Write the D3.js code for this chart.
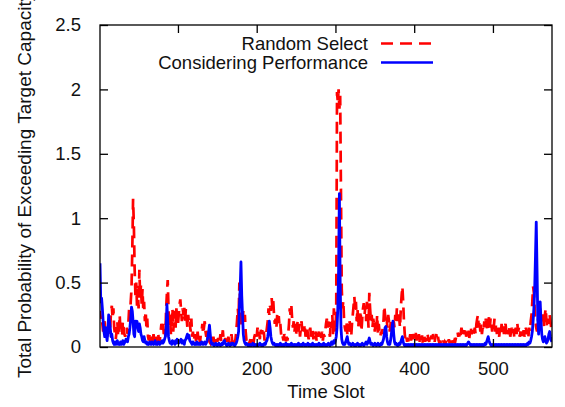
<!DOCTYPE html>
<html>
<head>
<meta charset="utf-8">
<script src="https://cdn.jsdelivr.net/npm/d3@7/dist/d3.min.js"></script>
<style>
  body { margin: 0; background: #fff; }
  svg text { font-family: "Liberation Sans", Arial, sans-serif; fill: #111; }
</style>
</head>
<body>
<div id="chart"></div>
<script>
// values, one per time slot (1..575)
var randomSelect = [
  0.28,0.22,0.25,0.18,0.12,0.15,0.2,0.1,0.14,0.08,0.12,0.18,0.1,0.15,0.28,0.32,0.22,0.3,0.15,0.1,0.06,0.12,0.2,0.08,0.15,
  0.25,0.12,0.18,0.08,0.2,0.15,0.1,0.08,0.12,0.15,0.1,0.18,0.3,0.22,0.35,0.45,0.75,1.15,0.95,0.6,0.4,0.5,0.32,0.45,0.3,
  0.6,0.38,0.48,0.32,0.45,0.28,0.35,0.2,0.28,0.15,0.22,0.08,0.05,0.1,0.04,0.08,0.03,0.06,0.1,0.04,0.07,0.03,0.08,0.05,0.1,
  0.04,0.06,0.12,0.18,0.15,0.2,0.1,0.15,0.08,0.3,0.42,0.52,0.3,0.15,0.25,0.1,0.2,0.3,0.12,0.22,0.28,0.15,0.3,0.22,0.18,
  0.25,0.33,0.37,0.28,0.2,0.3,0.25,0.32,0.18,0.3,0.22,0.15,0.25,0.18,0.2,0.12,0.22,0.08,0.12,0.05,0.08,0.1,0.04,0.06,0.12,
  0.05,0.08,0.03,0.1,0.12,0.18,0.1,0.15,0.2,0.12,0.08,0.15,0.05,0.1,0.04,0.03,0.06,0.02,0.05,0.08,0.03,0.05,0.02,0.06,0.04,
  0.07,0.03,0.05,0.1,0.04,0.08,0.13,0.05,0.03,0.07,0.04,0.06,0.02,0.08,0.05,0.03,0.06,0.1,0.04,0.05,0.08,0.03,0.06,0.12,0.2,
  0.3,0.22,0.5,0.35,0.15,0.25,0.18,0.28,0.22,0.25,0.12,0.05,0.03,0.05,0.02,0.04,0.03,0.06,0.02,0.05,0.03,0.08,0.1,0.12,0.08,
  0.15,0.1,0.12,0.06,0.14,0.1,0.13,0.08,0.12,0.05,0.08,0.1,0.15,0.2,0.3,0.25,0.32,0.28,0.38,0.3,0.36,0.25,0.18,0.22,0.15,
  0.25,0.2,0.24,0.15,0.18,0.1,0.06,0.08,0.05,0.1,0.07,0.04,0.08,0.05,0.1,0.18,0.3,0.25,0.32,0.22,0.15,0.2,0.12,0.18,0.1,
  0.15,0.2,0.12,0.18,0.08,0.14,0.2,0.1,0.15,0.12,0.18,0.08,0.12,0.15,0.1,0.06,0.12,0.15,0.08,0.1,0.13,0.06,0.1,0.08,0.12,
  0.05,0.1,0.08,0.12,0.06,0.1,0.07,0.12,0.05,0.1,0.08,0.12,0.18,0.22,0.15,0.2,0.12,0.08,0.2,0.15,0.25,0.1,0.3,0.2,0.12,
  0.3,1.98,1.9,2.0,1.85,1.95,1.2,0.45,0.3,0.36,0.2,0.15,0.12,0.2,0.1,0.18,0.12,0.2,0.15,0.08,0.18,0.25,0.32,0.39,0.28,
  0.35,0.2,0.3,0.15,0.25,0.18,0.28,0.12,0.22,0.3,0.34,0.25,0.32,0.2,0.35,0.28,0.15,0.42,0.3,0.2,0.25,0.15,0.22,0.18,0.12,
  0.2,0.15,0.25,0.1,0.18,0.12,0.08,0.12,0.1,0.15,0.2,0.32,0.25,0.18,0.22,0.15,0.25,0.2,0.12,0.18,0.22,0.15,0.1,0.2,0.15,
  0.25,0.18,0.3,0.2,0.28,0.22,0.15,0.3,0.4,0.47,0.35,0.2,0.1,0.05,0.08,0.04,0.07,0.03,0.06,0.1,0.05,0.08,0.11,0.06,0.1,
  0.07,0.11,0.05,0.09,0.06,0.1,0.04,0.07,0.05,0.09,0.03,0.06,0.08,0.04,0.07,0.05,0.1,0.06,0.04,0.08,0.05,0.09,0.06,0.1,0.07,
  0.04,0.08,0.1,0.06,0.09,0.05,0.03,0.05,0.02,0.04,0.03,0.05,0.02,0.04,0.03,0.05,0.02,0.04,0.06,0.03,0.05,0.02,0.04,0.06,0.03,
  0.05,0.04,0.07,0.1,0.12,0.08,0.11,0.06,0.1,0.15,0.12,0.08,0.13,0.1,0.15,0.08,0.12,0.1,0.14,0.07,0.12,0.15,0.1,0.13,0.08,
  0.12,0.15,0.1,0.18,0.22,0.25,0.15,0.2,0.12,0.18,0.1,0.15,0.12,0.2,0.15,0.22,0.18,0.12,0.2,0.23,0.15,0.22,0.18,0.12,0.2,
  0.15,0.22,0.12,0.18,0.1,0.15,0.12,0.08,0.15,0.1,0.18,0.12,0.16,0.1,0.14,0.18,0.12,0.08,0.13,0.1,0.15,0.08,0.12,0.15,0.1,
  0.14,0.08,0.12,0.15,0.1,0.18,0.12,0.15,0.08,0.12,0.1,0.06,0.1,0.13,0.08,0.12,0.15,0.1,0.13,0.08,0.15,0.12,0.2,0.25,0.35,
  0.47,0.42,0.3,0.2,0.15,0.12,0.2,0.25,0.18,0.3,0.25,0.2,0.28,0.22,0.15,0.25,0.3,0.2,0.15,0.22,0.18,0.25,0.2,0.15,0.18
];
var consideringPerf = [
  0.65,0.35,0.38,0.3,0.2,0.12,0.08,0.15,0.1,0.05,0.12,0.25,0.2,0.15,0.08,0.1,0.05,0.03,0.02,0.04,0.02,0.03,0.05,0.02,0.03,
  0.02,0.04,0.02,0.03,0.05,0.02,0.03,0.04,0.06,0.05,0.04,0.08,0.1,0.15,0.22,0.31,0.28,0.2,0.1,0.08,0.2,0.18,0.2,0.15,0.12,
  0.18,0.15,0.1,0.08,0.05,0.04,0.08,0.05,0.03,0.04,0.02,0.03,0.02,0.04,0.03,0.02,0.04,0.03,0.02,0.03,0.05,0.02,0.03,0.02,0.04,
  0.03,0.02,0.04,0.03,0.05,0.03,0.04,0.06,0.08,0.15,0.33,0.2,0.08,0.05,0.03,0.04,0.02,0.05,0.03,0.04,0.02,0.05,0.03,0.06,0.04,
  0.03,0.05,0.04,0.06,0.03,0.05,0.04,0.02,0.05,0.06,0.08,0.1,0.07,0.09,0.05,0.04,0.03,0.02,0.04,0.03,0.02,0.03,0.02,0.04,0.02,
  0.03,0.02,0.03,0.02,0.04,0.03,0.02,0.03,0.04,0.02,0.03,0.05,0.08,0.12,0.17,0.1,0.04,0.02,0.03,0.02,0.01,0.02,0.03,0.02,0.01,
  0.02,0.03,0.02,0.01,0.02,0.03,0.02,0.04,0.05,0.03,0.02,0.01,0.02,0.03,0.02,0.01,0.02,0.03,0.02,0.03,0.02,0.01,0.02,0.03,0.05,
  0.08,0.12,0.3,0.45,0.66,0.4,0.25,0.1,0.05,0.03,0.02,0.03,0.02,0.01,0.02,0.01,0.02,0.01,0.02,0.03,0.01,0.02,0.01,0.02,0.01,
  0.02,0.01,0.02,0.03,0.02,0.01,0.02,0.01,0.02,0.03,0.02,0.04,0.05,0.08,0.12,0.2,0.15,0.08,0.05,0.03,0.02,0.03,0.02,0.01,0.02,
  0.01,0.02,0.01,0.02,0.03,0.01,0.02,0.01,0.02,0.01,0.02,0.03,0.01,0.02,0.01,0.02,0.01,0.02,0.03,0.01,0.02,0.01,0.02,0.01,0.02,
  0.01,0.02,0.03,0.01,0.02,0.01,0.02,0.01,0.03,0.02,0.01,0.02,0.01,0.02,0.03,0.01,0.02,0.01,0.02,0.01,0.03,0.02,0.01,0.02,0.01,
  0.02,0.01,0.02,0.03,0.01,0.02,0.01,0.02,0.01,0.03,0.02,0.01,0.02,0.01,0.02,0.03,0.02,0.01,0.02,0.04,0.02,0.03,0.05,0.03,0.05,
  0.08,0.15,0.3,0.6,1.19,0.5,0.15,0.06,0.03,0.02,0.03,0.02,0.04,0.06,0.08,0.04,0.02,0.03,0.02,0.01,0.02,0.03,0.02,0.01,0.02,
  0.01,0.02,0.03,0.02,0.01,0.02,0.01,0.02,0.03,0.02,0.01,0.02,0.03,0.04,0.02,0.03,0.05,0.07,0.04,0.02,0.03,0.02,0.01,0.02,0.03,
  0.02,0.01,0.02,0.03,0.02,0.01,0.02,0.03,0.02,0.04,0.06,0.1,0.15,0.16,0.08,0.04,0.02,0.03,0.02,0.05,0.1,0.16,0.2,0.1,0.04,
  0.02,0.03,0.02,0.01,0.02,0.03,0.02,0.04,0.06,0.08,0.04,0.02,0.01,0.02,0.01,0.02,0.01,0.02,0.01,0.02,0.01,0.02,0.01,0.02,0.01,
  0.02,0.01,0.02,0.01,0.02,0.01,0.02,0.01,0.02,0.01,0.02,0.01,0.02,0.01,0.02,0.01,0.02,0.01,0.02,0.01,0.02,0.01,0.02,0.01,0.02,
  0.01,0.02,0.01,0.02,0.01,0.02,0.01,0.02,0.01,0.02,0.01,0.02,0.01,0.02,0.01,0.02,0.01,0.02,0.01,0.02,0.01,0.02,0.01,0.02,0.01,
  0.02,0.01,0.02,0.01,0.02,0.01,0.02,0.01,0.02,0.01,0.02,0.01,0.02,0.01,0.02,0.01,0.02,0.03,0.04,0.03,0.02,0.01,0.02,0.01,0.02,
  0.01,0.02,0.01,0.02,0.01,0.02,0.01,0.02,0.01,0.02,0.01,0.02,0.01,0.02,0.03,0.02,0.04,0.06,0.08,0.05,0.03,0.02,0.01,0.02,0.01,
  0.02,0.01,0.02,0.01,0.02,0.01,0.02,0.01,0.02,0.01,0.02,0.01,0.02,0.01,0.02,0.01,0.02,0.01,0.02,0.01,0.02,0.01,0.02,0.01,0.02,
  0.01,0.02,0.01,0.02,0.01,0.02,0.01,0.02,0.01,0.02,0.01,0.02,0.01,0.02,0.01,0.02,0.01,0.02,0.03,0.02,0.04,0.03,0.05,0.08,0.12,
  0.2,0.3,0.45,0.7,0.97,0.6,0.2,0.1,0.3,0.35,0.2,0.1,0.06,0.04,0.05,0.08,0.05,0.03,0.04,0.06,0.1,0.12,0.08,0.05,0.04
];
var xTicks = [100, 200, 300, 400, 500];
var yTicks = [0, 0.5, 1, 1.5, 2, 2.5];
var seriesNames = ['Random Select', 'Considering Performance'];

var W = 565, H = 407;
// plot box (note: "top" is a reserved window property, so use mTop etc.)
var mLeft = 100, mRight = 552, mTop = 25, mBottom = 347;
var fontSize = '18.5px';
var redDash = '12,7';

var svg = d3.select('#chart').append('svg')
    .attr('width', W)
    .attr('height', H);

var x = d3.scaleLinear().domain([1, 575]).range([mLeft, mRight]);
var y = d3.scaleLinear().domain([0, 2.5]).range([mBottom, mTop]);

svg.append('clipPath').attr('id', 'plotclip')
  .append('rect')
    .attr('x', mLeft).attr('y', mTop)
    .attr('width', mRight - mLeft).attr('height', mBottom - mTop);

var line = d3.line()
    .x(function(d, i) { return x(i + 1); })
    .y(function(d) { return y(d); });

var plot = svg.append('g').attr('clip-path', 'url(#plotclip)');

plot.append('path')
    .datum(randomSelect)
    .attr('fill', 'none')
    .attr('stroke', '#ff0000')
    .attr('stroke-width', 2.7)
    .attr('stroke-dasharray', redDash)
    .attr('d', line);

plot.append('path')
    .datum(consideringPerf)
    .attr('fill', 'none')
    .attr('stroke', '#0000ff')
    .attr('stroke-width', 2.8)
    .attr('stroke-linejoin', 'round')
    .attr('d', line);

// frame
svg.append('rect')
    .attr('x', mLeft).attr('y', mTop)
    .attr('width', mRight - mLeft).attr('height', mBottom - mTop)
    .attr('fill', 'none')
    .attr('stroke', '#000')
    .attr('stroke-width', 1.3);

// inward ticks on all four sides (gnuplot mirror style)
var tl = 8;
svg.append('g').attr('transform', 'translate(0,' + mBottom + ')')
  .call(d3.axisBottom(x).tickValues(xTicks).tickSize(-tl).tickPadding(15))
  .call(function(g) { g.select('.domain').remove(); });
svg.append('g').attr('transform', 'translate(0,' + mTop + ')')
  .call(d3.axisTop(x).tickValues(xTicks).tickSize(-tl).tickFormat(''))
  .call(function(g) { g.select('.domain').remove(); });
svg.append('g').attr('transform', 'translate(' + mLeft + ',0)')
  .call(d3.axisLeft(y).tickValues(yTicks).tickSize(-tl).tickPadding(19).tickFormat(d3.format('')))
  .call(function(g) { g.select('.domain').remove(); });
svg.append('g').attr('transform', 'translate(' + mRight + ',0)')
  .call(d3.axisRight(y).tickValues(yTicks).tickSize(-tl).tickFormat(''))
  .call(function(g) { g.select('.domain').remove(); });

svg.selectAll('.tick line').attr('stroke', '#000').attr('stroke-width', 1.3);
svg.selectAll('.tick text')
    .style('font-family', '"Liberation Sans", Arial, sans-serif')
    .style('font-size', fontSize)
    .attr('fill', '#111');

// axis titles
svg.append('text')
    .attr('x', (mLeft + mRight) / 2)
    .attr('y', 398)
    .attr('text-anchor', 'middle')
    .style('font-size', fontSize)
    .text('Time Slot');

// y title is longer than the canvas in the original, so its tail gets cut at the top
svg.append('text')
    .attr('transform', 'translate(31,378) rotate(-90)')
    .attr('text-anchor', 'start')
    .style('font-size', '19px')
    .text('Total Probability of Exceeding Target Capacity');

// legend
var legend = svg.append('g');
var legendY = [43.5, 62.5];
var legendStyle = [
  { color: '#ff0000', dash: redDash },
  { color: '#0000ff', dash: null }
];
seriesNames.forEach(function(name, i) {
  legend.append('text')
      .attr('x', 368)
      .attr('y', legendY[i] + 6)
      .attr('text-anchor', 'end')
      .style('font-size', fontSize)
      .text(name);
  legend.append('line')
      .attr('x1', 381).attr('x2', 433)
      .attr('y1', legendY[i]).attr('y2', legendY[i])
      .attr('stroke', legendStyle[i].color)
      .attr('stroke-width', 2.7)
      .attr('stroke-dasharray', legendStyle[i].dash);
});
</script>
</body>
</html>
